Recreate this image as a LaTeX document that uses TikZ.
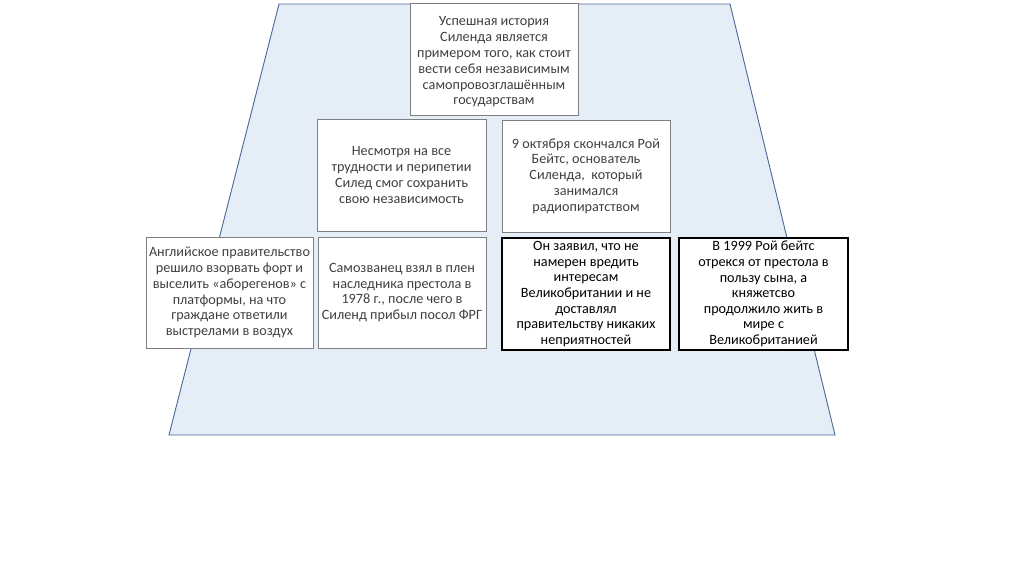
\documentclass[tikz,border=0pt]{standalone}
\usepackage{fontspec}
\setmainfont{Carlito}
\definecolor{trapfill}{HTML}{E5EDF7}
\definecolor{trapline}{HTML}{4A6797}
\definecolor{graybox}{HTML}{7F7F7F}
\definecolor{graytext}{HTML}{404040}
\tikzset{
  gbox/.style={draw=graybox, line width=0.9pt, fill=white, text=graytext, align=center,
    inner sep=0pt, font=\fontsize{14.2}{15.8}\selectfont},
  kbox/.style={draw=black, line width=1.2pt, fill=white, text=black, align=center,
    inner sep=0pt, font=\fontsize{14.2}{15.6}\selectfont},
  gtext/.style={text=graytext, align=center, inner sep=0pt, font=\fontsize{14.2}{15.8}\selectfont},
}
\begin{document}
\begin{tikzpicture}[x=1pt,y=-1pt]
\useasboundingbox (0,0) rectangle (1024,574);
\fill[white] (0,0) rectangle (1024,574);
\draw[trapline, fill=trapfill, line width=0.9pt] (279,4) -- (730,4) -- (835,435) -- (169,435) -- cycle;
% top
\node[gbox, minimum width=168pt, minimum height=112pt] (top) at (494,59) {};
\node[gtext] (toptext) at ([yshift=-3pt]top.center) {Успешная история\\Силенда является\\примером того, как стоит\\вести себя независимым\\самопровозглашённым\\государствам};
% row 2
\node[gbox, minimum width=169pt, minimum height=112pt] (r2a) at (401.5,175) {Несмотря на все\\трудности и перипетии\\Силед смог сохранить\\свою независимость};
\node[gbox, minimum width=168pt, minimum height=112pt] (r2b) at (586,176) {9 октября скончался Рой\\Бейтс, основатель\\Силенда,~ который\\занимался\\радиопиратством};
% row 3
\node[gbox, minimum width=167pt, minimum height=111pt] (r3a) at (229.5,292.5) {Английское правительство\\решило взорвать форт и\\выселить «аборегенов» с\\платформы, на что\\граждане ответили\\выстрелами в воздух};
\node[gbox, minimum width=168pt, minimum height=111pt] (r3b) at (402,292.5) {Самозванец взял в плен\\наследника престола в\\1978 г., после чего в\\Силенд прибыл посол ФРГ};
\node[kbox, minimum width=168pt, minimum height=112pt] (r3c) at (586,294) {Он заявил, что не\\намерен вредить\\интересам\\Великобритании и не\\доставлял\\правительству никаких\\неприятностей};
\node[kbox, minimum width=169pt, minimum height=112pt] (r3d) at (763.5,294) {В 1999 Рой бейтс\\отрекся от престола в\\пользу сына, а\\княжетсво\\продолжило жить в\\мире с\\Великобританией};
\end{tikzpicture}
\end{document}
